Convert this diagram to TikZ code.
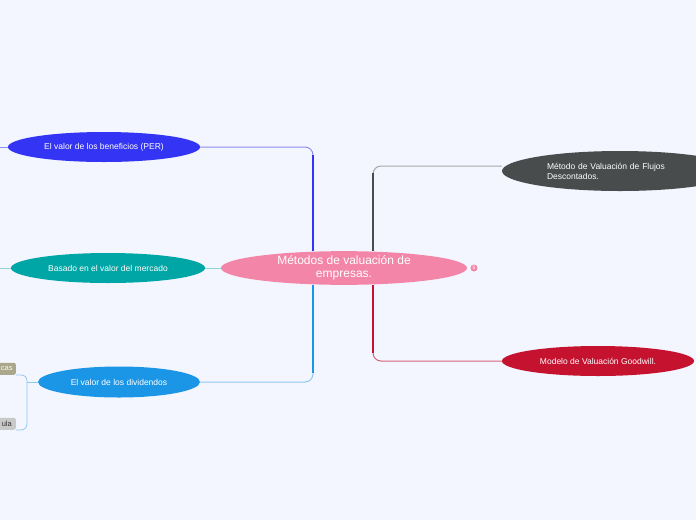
\documentclass[tikz,border=0pt]{standalone}
\usepackage{fontspec}
\setmainfont{Liberation Sans}
\usetikzlibrary{shapes.geometric,positioning}

\definecolor{fondo}{RGB}{243,246,254}
\definecolor{rosa}{RGB}{242,133,168}
\definecolor{azulper}{RGB}{52,52,245}
\definecolor{azulperclaro}{RGB}{140,140,245}
\definecolor{verdeazul}{RGB}{0,165,165}
\definecolor{verdeazulclaro}{RGB}{142,214,214}
\definecolor{azuldiv}{RGB}{27,150,230}
\definecolor{azuldivclaro}{RGB}{144,200,240}
\definecolor{grisflujo}{RGB}{72,76,76}
\definecolor{grisflujoclaro}{RGB}{168,168,168}
\definecolor{rojogw}{RGB}{196,18,47}
\definecolor{rojogwclaro}{RGB}{214,100,120}
\definecolor{oliva}{RGB}{171,167,140}
\definecolor{grisclaro}{RGB}{201,201,201}

\tikzset{
	rama/.style={ellipse,draw=none,inner sep=0pt,text=white,font=\fontsize{8.5}{10}\selectfont,minimum height=30pt},
	hoja/.style={rectangle,rounded corners=2pt,inner sep=0pt,minimum height=12pt,anchor=south east,font=\fontsize{7.5}{9}\selectfont},
	linea/.style={line width=1pt,rounded corners=8pt},
	tronco/.style={line width=2.4pt},
	troncomedio/.style={line width=1.6pt}
}

\begin{document}
\begin{tikzpicture}[x=1pt,y=-1pt]

\fill[fondo] (0,0) rectangle (696,520);
\useasboundingbox (0,0) rectangle (696,520);
\clip (0,0) rectangle (696,520);

\node[rama,fill=rosa,minimum width=246pt,minimum height=32pt,font=\fontsize{12}{12.5}\selectfont,align=center]	(ctr)	at (344,268)	{Métodos de valuación de\\empresas.};
\node[circle,fill=rosa,inner sep=0pt,minimum size=7pt,text=white,font=\fontsize{5}{5}\selectfont]	(icono)	at (474,268)	{\$};

\node[rama,fill=azulper,minimum width=192pt]	(per)	at (104,147)	{El valor de los beneficios (PER)};
\node[rama,fill=verdeazul,minimum width=194pt]	(mer)	at (108,268)	{Basado en el valor del mercado};
\node[rama,fill=azuldiv,minimum width=162pt,minimum height=31pt]	(div)	at (119,382)	{El valor de los dividendos};
\node[rama,fill=grisflujo,minimum width=236pt,minimum height=40pt,text width=146pt,align=left]	(flu)	at (620,171)	{Método de Valuación de Flujos\\Descontados.};
\node[rama,fill=rojogw,minimum width=192pt]	(gw)	at (598,361)	{Modelo de Valuación Goodwill.};

\node[hoja,fill=oliva,text=white!92!oliva,minimum width=24pt]	(cas)	at (16,375)	{\hspace{6pt}cas\hspace{2pt}};
\node[hoja,fill=grisclaro,text=black!80,minimum width=24pt]	(ula)	at (16,430)	{\hspace{6pt}ula\hspace{2pt}};

\coordinate (jl) at (313,268);
\coordinate (jr) at (373,268);
\coordinate (bordeper) at (0,147);
\coordinate (bordemer) at (0,268);
\coordinate (dj) at (27,382);

%ramas izquierdas
\draw[linea,azulperclaro]	(per.east) -| (jl |- ctr.north);
\draw[troncomedio,azulper]	(jl |- ctr.north) -- ++(0,-96);
\draw[tronco,azulper]	(jl |- ctr.north) -- ++(0,-50);
\draw[linea,azuldivclaro]	(div.east) -| (jl |- ctr.south);
\draw[troncomedio,azuldiv]	(jl |- ctr.south) -- ++(0,88);
\draw[tronco,azuldiv]	(jl |- ctr.south) -- ++(0,45);
\draw[linea,verdeazulclaro]	(mer.east) -- (ctr.west);

%ramas derechas
\draw[linea,grisflujoclaro]	(flu.west |- 0,166) -| (jr |- ctr.north);
\draw[troncomedio,grisflujo]	(jr |- ctr.north) -- ++(0,-78);
\draw[tronco,grisflujo]	(jr |- ctr.north) -- ++(0,-40);
\draw[linea,rojogwclaro]	(gw.west) -| (jr |- ctr.south);
\draw[troncomedio,rojogw]	(jr |- ctr.south) -- ++(0,68);
\draw[tronco,rojogw]	(jr |- ctr.south) -- ++(0,35);

%bordes
\draw[line width=1pt,azulperclaro]	(per.west) -- (bordeper);
\draw[line width=1pt,verdeazulclaro]	(mer.west) -- (bordemer);
\draw[line width=0.8pt,azuldivclaro]	(div.west) -- (dj);
\draw[line width=0.8pt,azuldivclaro,rounded corners=5pt]	(dj) |- (cas.south east);
\draw[line width=0.8pt,azuldivclaro,rounded corners=6pt]	(dj) |- (ula.south east);

\end{tikzpicture}
\end{document}
